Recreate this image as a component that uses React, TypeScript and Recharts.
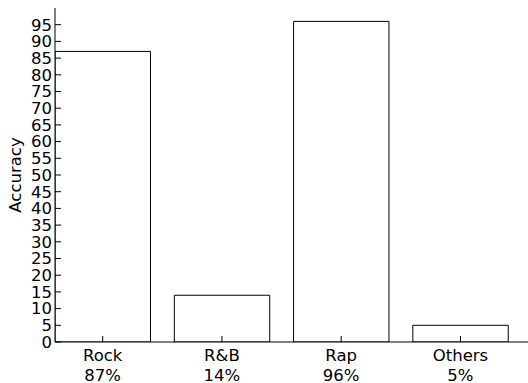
import { BarChart, Bar, XAxis, YAxis } from "recharts";

const genres = ["Rock", "R&B", "Rap", "Others"];
const accuracy = [87, 14, 96, 5];
const pctLabels = ["87%", "14%", "96%", "5%"];
const positions = [0, 1, 2, 3];
const yTicks = [0, 5, 10, 15, 20, 25, 30, 35, 40, 45, 50, 55, 60, 65, 70, 75, 80, 85, 90, 95];

const data = genres.map((g, i) => ({ genre: g, pos: positions[i], accuracy: accuracy[i] }));

const FONT = "'DejaVu Sans', sans-serif";
const FS = 16.5;

const GenreTick = (props: any) => {
  const { x, y, payload } = props;
  const i = positions.indexOf(payload.value);
  return (
    <text x={x} y={y} textAnchor="middle" fill="#000" fontSize={FS} fontFamily={FONT}>
      <tspan x={x} y={y + 15}>{genres[i]}</tspan>
      <tspan x={x} y={y + 35}>{pctLabels[i]}</tspan>
    </text>
  );
};

const AxisTitle = (props: any) => {
  const vb = props.viewBox;
  const cx = vb.x + 15;
  const cy = vb.y + vb.height / 2;
  return (
    <text
      transform={`translate(${cx},${cy}) rotate(-90)`}
      textAnchor="middle"
      dominantBaseline="central"
      fill="#000"
      fontSize={FS}
      fontFamily={FONT}
    >
      Accuracy
    </text>
  );
};

const blank = () => "";

export default function App() {
  return (
    <div style={{ position: "absolute", left: 0, top: 0, width: 528, height: 383, overflow: "hidden", background: "#fff" }}>
      <BarChart width={533} height={383} data={data} margin={{ top: 8, right: 1, bottom: 0, left: 0 }}>
        <XAxis
          xAxisId="bottom"
          dataKey="pos"
          type="number"
          domain={[-0.4, 3.6]}
          allowDataOverflow
          ticks={positions}
          interval={0}
          height={41}
          tickSize={-6}
          tickMargin={10}
          tick={<GenreTick />}
          axisLine={{ stroke: "#000" }}
          tickLine={{ stroke: "#000" }}
        />
        <XAxis
          xAxisId="top"
          orientation="top"
          dataKey="pos"
          type="number"
          domain={[-0.4, 3.6]}
          allowDataOverflow
          ticks={positions}
          interval={0}
          height={0}
          tickSize={-6}
          tickFormatter={blank}
          axisLine={{ stroke: "#000" }}
          tickLine={{ stroke: "#000" }}
        />
        <YAxis
          yAxisId="left"
          type="number"
          domain={[0, 100]}
          allowDataOverflow
          ticks={yTicks}
          interval={0}
          width={55}
          tickSize={-6}
          tickMargin={9}
          tick={{ fill: "#000", fontSize: FS, fontFamily: FONT }}
          axisLine={{ stroke: "#000" }}
          tickLine={{ stroke: "#000" }}
          label={{ content: <AxisTitle /> }}
        />
        <YAxis
          yAxisId="right"
          orientation="right"
          type="number"
          domain={[0, 100]}
          allowDataOverflow
          ticks={yTicks}
          interval={0}
          width={0}
          tickSize={-6}
          tickFormatter={blank}
          axisLine={{ stroke: "#000" }}
          tickLine={{ stroke: "#000" }}
        />
        <Bar
          xAxisId="bottom"
          yAxisId="left"
          dataKey="accuracy"
          fill="#fff"
          stroke="#000"
          strokeWidth={1}
          barSize={95.4}
          isAnimationActive={false}
        />
      </BarChart>
    </div>
  );
}
